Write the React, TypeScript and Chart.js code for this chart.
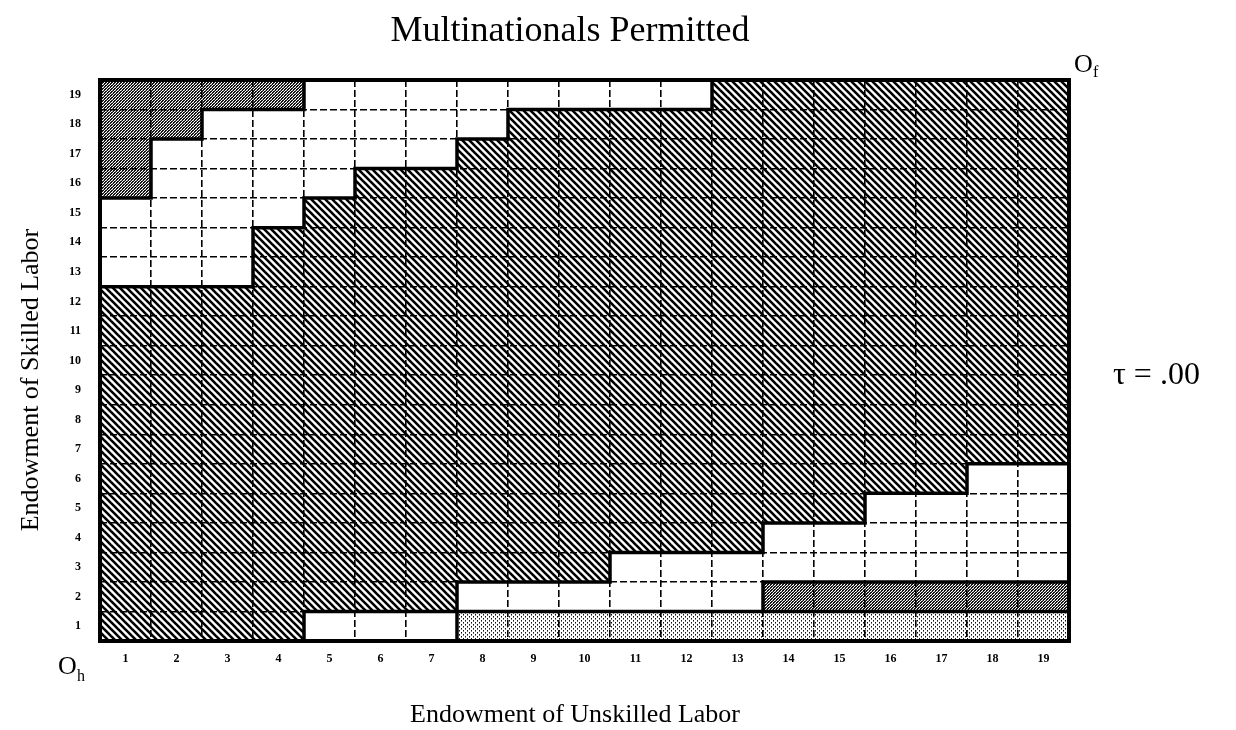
import React, { useEffect, useRef } from 'react';
import { Chart, registerables } from 'chart.js';

Chart.register(...registerables);

// Endowment of unskilled labor (x categories)
const unskilledLabels = ['1', '2', '3', '4', '5', '6', '7', '8', '9', '10', '11', '12', '13', '14', '15', '16', '17', '18', '19'];
// Endowment of skilled labor (y levels)
const skilledLevels = [1, 2, 3, 4, 5, 6, 7, 8, 9, 10, 11, 12, 13, 14, 15, 16, 17, 18, 19];

// Regime of each cell, listed as runs from x=1 to x=19, one row per skilled level (bottom row first).
// H = hatched, W = white, D = dark stipple, L = light stipple
const regionRuns: [string, number][][] = [
  [['H', 4], ['W', 3], ['L', 12]], // 1
  [['H', 7], ['W', 6], ['D', 6]], // 2
  [['H', 10], ['W', 9]], // 3
  [['H', 13], ['W', 6]], // 4
  [['H', 15], ['W', 4]], // 5
  [['H', 17], ['W', 2]], // 6
  [['H', 19]], // 7
  [['H', 19]], // 8
  [['H', 19]], // 9
  [['H', 19]], // 10
  [['H', 19]], // 11
  [['H', 19]], // 12
  [['W', 3], ['H', 16]], // 13
  [['W', 3], ['H', 16]], // 14
  [['W', 4], ['H', 15]], // 15
  [['D', 1], ['W', 4], ['H', 14]], // 16
  [['D', 1], ['W', 6], ['H', 12]], // 17
  [['D', 2], ['W', 6], ['H', 11]], // 18
  [['D', 4], ['W', 8], ['H', 7]], // 19
];

const titleText = 'Multinationals Permitted';
const xTitle = 'Endowment of Unskilled Labor';
const yTitle = 'Endowment of Skilled Labor';
const tauText = '\u03C4 = .00';

const SERIF = '"Liberation Serif", "Times New Roman", serif';

function expandRow(runs: [string, number][]): string[] {
  const out: string[] = [];
  runs.forEach(([code, n]) => {
    for (let i = 0; i < n; i++) out.push(code);
  });
  return out;
}

function makePattern(w: number, h: number, draw: (g: CanvasRenderingContext2D) => void): CanvasPattern | string {
  const c = document.createElement('canvas');
  c.width = w;
  c.height = h;
  const g = c.getContext('2d');
  if (!g) return '#888';
  draw(g);
  return g.createPattern(c, 'repeat') || '#888';
}

export default function App() {
  const ref = useRef<HTMLCanvasElement | null>(null);

  useEffect(() => {
    const canvas = ref.current;
    if (!canvas) return;
    document.body.style.margin = '0';

    const hatch = makePattern(7, 7, (g) => {
      g.fillStyle = '#fff';
      g.fillRect(0, 0, 7, 7);
      g.strokeStyle = '#000';
      g.lineWidth = 2.6;
      for (const k of [-7, 0, 7]) {
        g.beginPath();
        g.moveTo(k - 2, -2);
        g.lineTo(k + 9, 9);
        g.stroke();
      }
    });
    const dark = makePattern(3, 3, (g) => {
      g.fillStyle = '#161616';
      g.fillRect(0, 0, 3, 3);
      g.fillStyle = '#fff';
      g.fillRect(0, 0, 1, 1);
      g.fillRect(2, 1, 1, 1);
      g.fillRect(1, 2, 1, 1);
      g.fillStyle = '#777';
      g.fillRect(1, 0, 1, 1);
    });
    const light = makePattern(4, 4, (g) => {
      g.fillStyle = '#fff';
      g.fillRect(0, 0, 4, 4);
      g.fillStyle = '#111';
      g.fillRect(1, 0, 1, 1);
      g.fillRect(3, 2, 1, 1);
      g.fillStyle = '#777';
      g.fillRect(1, 1, 1, 1);
      g.fillRect(3, 3, 1, 1);
    });
    const fills: Record<string, CanvasPattern | string> = { H: hatch, W: '#ffffff', D: dark, L: light };

    const grid = regionRuns.map(expandRow); // grid[row-1][col-1]

    const datasets = skilledLevels.map((lvl, ri) => ({
      label: 'Skilled ' + lvl,
      data: unskilledLabels.map(() => [lvl - 0.5, lvl + 0.5] as [number, number]),
      backgroundColor: unskilledLabels.map((_, ci) => fills[grid[ri][ci]]),
      borderWidth: 0,
      barPercentage: 1,
      categoryPercentage: 1,
      stack: 'cells',
    }));

    const overlay = {
      id: 'overlay',
      afterDraw(chart: any) {
        const { ctx, chartArea: a } = chart;
        const xs = chart.scales.x;
        const ys = chart.scales.y;
        const n = unskilledLabels.length;
        const xEdge = (k: number) => {
          if (k <= 0) return a.left;
          if (k >= n) return a.right;
          return (xs.getPixelForValue(k - 1) + xs.getPixelForValue(k)) / 2;
        };
        const yEdge = (k: number) => ys.getPixelForValue(k + 0.5);
        ctx.save();
        ctx.strokeStyle = '#000';
        ctx.lineWidth = 3.5;
        ctx.lineCap = 'square';
        ctx.beginPath();
        const rows = skilledLevels.length;
        for (let r = 0; r < rows; r++) {
          for (let c = 0; c < n - 1; c++) {
            if (grid[r][c] !== grid[r][c + 1]) {
              ctx.moveTo(xEdge(c + 1), yEdge(r));
              ctx.lineTo(xEdge(c + 1), yEdge(r + 1));
            }
          }
        }
        for (let r = 0; r < rows - 1; r++) {
          for (let c = 0; c < n; c++) {
            if (grid[r][c] !== grid[r + 1][c]) {
              ctx.moveTo(xEdge(c), yEdge(r + 1));
              ctx.lineTo(xEdge(c + 1), yEdge(r + 1));
            }
          }
        }
        ctx.stroke();
        ctx.lineWidth = 4;
        ctx.strokeRect(a.left, a.top, a.right - a.left, a.bottom - a.top);

        // texts
        ctx.fillStyle = '#000';
        ctx.textBaseline = 'alphabetic';
        ctx.textAlign = 'center';
        ctx.font = '36px ' + SERIF;
        ctx.fillText(titleText, 570, 41);
        ctx.font = '26px ' + SERIF;
        ctx.fillText(xTitle, 575, 722);
        ctx.save();
        ctx.translate(38, 380);
        ctx.rotate(-Math.PI / 2);
        ctx.fillText(yTitle, 0, 0);
        ctx.restore();
        ctx.textAlign = 'left';
        ctx.font = '32px ' + SERIF;
        ctx.fillText(tauText, 1113, 384);
        ctx.font = '26px ' + SERIF;
        ctx.fillText('O', 1074, 72);
        ctx.fillText('O', 58, 674);
        ctx.font = '16px ' + SERIF;
        ctx.fillText('f', 1093, 77);
        ctx.fillText('h', 77, 681);
        ctx.restore();
      },
    };

    const chart = new Chart(canvas, {
      type: 'bar',
      data: { labels: unskilledLabels, datasets: datasets as any },
      options: {
        animation: false,
        responsive: false,
        events: [],
        layout: { padding: { left: 0, top: 80, right: 167, bottom: 0 } },
        plugins: { legend: { display: false }, tooltip: { enabled: false }, title: { display: false } },
        scales: {
          x: {
            type: 'category',
            stacked: true,
            offset: true,
            grid: { offset: true, color: '#000', lineWidth: 1.6, drawTicks: false, z: 1 },
            border: { display: false, dash: [7, 3] },
            ticks: { color: '#000', padding: 11, font: { family: SERIF, size: 12, weight: 'bold' }, maxRotation: 0, autoSkip: false },
            afterFit: (s: any) => {
              s.height = 89;
            },
          },
          y: {
            type: 'linear',
            stacked: false,
            min: 0.5,
            max: 19.5,
            afterBuildTicks: (s: any) => {
              s.ticks = skilledLevels.map((v) => ({ value: v }));
            },
            grid: { offset: true, color: '#000', lineWidth: 1.6, drawTicks: false, z: 1 },
            border: { display: false, dash: [7, 3] },
            ticks: { color: '#000', padding: 19, font: { family: SERIF, size: 12, weight: 'bold' }, callback: (v: any) => String(v) },
            afterFit: (s: any) => {
              s.width = 100;
            },
          },
        },
      } as any,
      plugins: [overlay],
    });
    return () => chart.destroy();
  }, []);

  return (
    <div style={{ position: 'absolute', left: 0, top: 0, width: 1236, height: 730, background: '#fff' }}>
      <canvas ref={ref} width={1236} height={730} />
    </div>
  );
}
